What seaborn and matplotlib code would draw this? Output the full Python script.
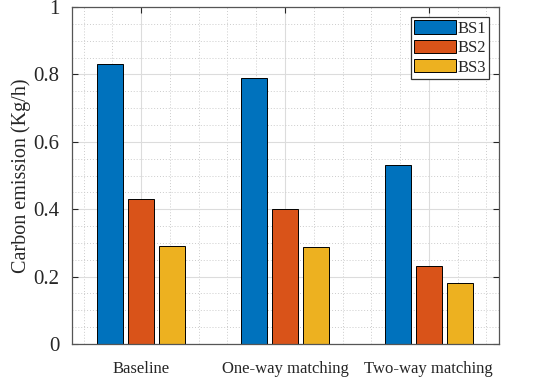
import pandas as pd
import seaborn as sns
import matplotlib.pyplot as plt
from matplotlib.ticker import MultipleLocator

# --- data ---
scenarios = ["Baseline", "One-way matching", "Two-way matching"]
stations = ["BS1", "BS2", "BS3"]
bs1 = [0.83, 0.79, 0.53]
bs2 = [0.43, 0.40, 0.23]
bs3 = [0.29, 0.287, 0.18]
colors = ["#0072BD", "#D95319", "#EDB120"]

rows = []
for name, vals in zip(stations, [bs1, bs2, bs3]):
    for sc, v in zip(scenarios, vals):
        rows.append({"scenario": sc, "station": name, "emission": v})
df = pd.DataFrame(rows)

sns.set_style("white")
plt.rcParams["font.family"] = ["Liberation Serif", "DejaVu Serif"]

fig = plt.figure(figsize=(5.34, 3.9), dpi=100)
ax = fig.add_axes([0.135, 0.118, 0.8, 0.864])

sns.barplot(data=df, x="scenario", y="emission", hue="station",
            order=scenarios, hue_order=stations, palette=colors,
            width=0.645, gap=0.17, edgecolor="black", linewidth=0.7,
            saturation=1, errorbar=None, ax=ax)

ax.set_xlim(-0.48, 2.49)
ax.set_ylim(0, 1)
ax.set_xlabel("")
ax.set_ylabel("Carbon emission (Kg/h)", fontsize=14.5, color="#262626", labelpad=2)

# MATLAB-like grid: solid major, dotted minor
ax.yaxis.set_major_locator(MultipleLocator(0.2))
ax.yaxis.set_minor_locator(MultipleLocator(0.05))
ax.xaxis.set_minor_locator(MultipleLocator(0.2))
ax.set_yticks([0, 0.2, 0.4, 0.6, 0.8, 1.0])
ax.set_yticklabels(["0", "0.2", "0.4", "0.6", "0.8", "1"], fontfamily="Liberation Serif")
ax.set_xticks(range(len(scenarios)))
ax.set_xticklabels(scenarios, fontfamily="Liberation Serif")
ax.set_axisbelow(True)
ax.grid(which="major", color="#dcdcdc", linewidth=0.8, linestyle="-")
ax.grid(which="minor", color="#cccccc", linewidth=0.7, linestyle=(0, (1, 2)))

ax.tick_params(axis="y", which="major", direction="in", length=4, labelsize=15,
               left=True, right=True, colors="#262626", pad=9)
ax.tick_params(axis="x", which="major", direction="in", length=4, labelsize=12,
               bottom=True, top=True, colors="#262626", pad=12)
ax.tick_params(which="minor", length=0)
for s in ax.spines.values():
    s.set_color("#555555")
    s.set_linewidth(0.9)

leg = ax.legend(loc="upper right", bbox_to_anchor=(1, 1), fontsize=12,
                frameon=True, fancybox=False, edgecolor="#333333", framealpha=1,
                handlelength=2.5, handleheight=0.85, handletextpad=0.1,
                labelspacing=0.18, borderpad=0.2, borderaxespad=0.6)
leg.get_frame().set_linewidth(0.9)

fig.savefig("out.png", dpi=100)
